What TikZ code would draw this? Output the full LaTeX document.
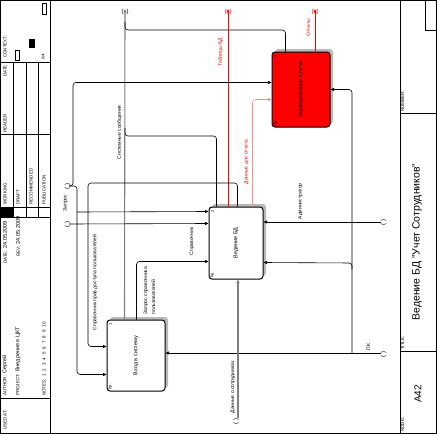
\documentclass[tikz,border=0pt]{standalone}
\usepackage{fontspec}
\setmainfont{Liberation Sans}
\usetikzlibrary{arrows.meta,calc,shadows}

\newcommand\hdrval{\fontsize{5.5}{6.5}\selectfont}

\tikzset{
  func/.style={draw,line width=1pt,rounded corners=3pt,inner sep=0pt,fill=white,
    font=\fontsize{5.5}{6.5}\selectfont,
    drop shadow={shadow xshift=3pt,shadow yshift=3pt,fill=gray!55,opacity=1}},
  arr/.style={-{Triangle[length=3.5pt,width=3pt]},line width=0.6pt,rounded corners=3pt},
  sysarr/.style={arr,gray,line width=1.1pt},
  redarr/.style={arr,red},
  pinkarr/.style={arr,red!45},
  link/.style={line width=0.6pt,rounded corners=3pt},
  lbl/.style={font=\fontsize{5}{8}\selectfont,rotate=90,anchor=west,inner sep=0.5pt},
  hdr/.style={font=\fontsize{4.5}{5.5}\selectfont,rotate=90,anchor=west,inner sep=0pt},
  tunnel/.style={font=\fontsize{6}{7}\selectfont,rotate=90,inner sep=0pt},
  toptunnel/.style={font=\fontsize{6}{7}\selectfont,inner sep=0pt},
  boxno/.style={font=\fontsize{4}{5}\selectfont,rotate=90,inner sep=0pt},
}

\begin{document}
\begin{tikzpicture}[x=1pt,y=-1pt]
  \useasboundingbox (0,0) rectangle (437,434);

  % frame
  \draw[line width=0.8pt] (0.5,0.5) rectangle (436.5,433.5);
  \draw[line width=0.8pt] (50,0.5) -- (50,433.5);
  \draw[line width=0.8pt] (400,0.5) -- (400,433.5);

  % header
  \foreach \y in {62,134,207,217,398}
    \draw[line width=0.6pt] (0.5,\y) -- (50,\y);
  \foreach \x in {13,26,38}
    \draw[line width=0.6pt] (\x,62) -- (\x,217);
  \fill (0.5,207) rectangle (13,217);
  \draw[line width=0.5pt] (15,50) rectangle (19,60);
  \fill (29,39) rectangle (35,48);
  \draw[line width=0.5pt] (42,3) rectangle (46,14);

  \node[hdr] (usedAt) at (5,430) {USED AT:};
  \node[hdr] (author) at (5,396) {AUTHOR:\enspace{\hdrval Сергей}};
  \node[hdr] (date) at (5,264) {DATE:\enspace{\hdrval 24.05.2009}};
  \node[hdr] (project) at (18,396) {PROJECT:\enspace{\hdrval Внедрение в ЦКТ}};
  \node[hdr] (rev) at (18,257) {REV:\enspace{\hdrval 24.05.2009}};
  \node[hdr] (notes) at (44,396) {NOTES:\enspace 1\hspace{3pt}2\hspace{3pt}3\hspace{3pt}4\hspace{3pt}5\hspace{3pt}6\hspace{3pt}7\hspace{3pt}8\hspace{3pt}9\hspace{3pt}10};
  \node[hdr] (working) at (5,205) {WORKING};
  \node[hdr] (draft) at (18,205) {DRAFT};
  \node[hdr] (recommended) at (31,205) {RECOMMENDED};
  \node[hdr] (publication) at (44,205) {PUBLICATION};
  \node[hdr] (reader) at (5,133) {READER};
  \node[hdr] (readerDate) at (5,77) {DATE};
  \node[hdr] (context) at (5,58) {CONTEXT:};
  \node[hdr] (sheet) at (43,60) {A4};

  % footer
  \draw[line width=0.6pt] (400,113) -- (436.5,113);
  \draw[line width=0.6pt] (400,351) -- (436.5,351);
  \draw[line width=0.6pt] (425,0.5) -- (425,30) -- (436.5,30);
  \node[hdr] (numberLbl) at (402.5,112) {NUMBER:};
  \node[hdr] (titleLbl) at (402.5,350) {TITLE:};
  \node[hdr] (nodeLbl) at (402.5,432) {NODE:};
  \node[rotate=90,font=\fontsize{10}{12}\selectfont] (nodeNo) at (418,394) {A42};
  \node[rotate=90,font=\fontsize{10.5}{12}\selectfont] (title) at (417,242) {Ведение БД "Учет Сотрудников"};

  % activity boxes
  \node[func,minimum width=58pt,minimum height=71pt] (vhod) at (136,355.5) {\rotatebox{90}{Вход в систему}};
  \node[func,minimum width=54pt,minimum height=72pt] (vedenie) at (236,243) {\rotatebox{90}{Ведение БД}};
  \node[func,fill=red,minimum width=58pt,minimum height=75pt] (otchet) at (301,89.5) {\rotatebox{90}{Формирование отчета}};

  \node[boxno] (vhodNo) at ($(vhod.north west)+(4,5)$) {1};
  \node[boxno,anchor=west] (vhodCost) at ($(vhod.south west)+(4,-2)$) {0р.};
  \node[boxno] (vedenieNo) at ($(vedenie.north west)+(4,5)$) {2};
  \node[boxno,anchor=west] (vedenieCost) at ($(vedenie.south west)+(4,-2)$) {0р.};
  \node[boxno] (otchetNo) at ($(otchet.north west)+(4,5)$) {3};
  \node[boxno,anchor=west] (otchetCost) at ($(otchet.south west)+(4,-2)$) {0р.};

  % tunnel ends
  \coordinate (sysTop) at (125,9);
  \coordinate (tabTop) at (228,9);
  \coordinate (repTop) at (315,9);
  \coordinate (zapSrc) at (69,186);
  \coordinate (sprSrc) at (69,224);
  \coordinate (admSrc) at (381,222);
  \coordinate (pcSrc) at (381,353);
  \coordinate (pcBus) at (352,353);
  \coordinate (empSrc) at (238,418);
  \coordinate (pravaBend) at (88,183);

  \node[toptunnel] (tSys) at ($(sysTop)+(0,3)$) {(\hspace{3pt})};
  \node[toptunnel,red] (tTab) at ($(tabTop)+(0,3)$) {(\hspace{3pt})};
  \node[toptunnel,red] (tRep) at ($(repTop)+(0,3)$) {(\hspace{3pt})};
  \node[tunnel] (tZap) at (67.5,186.5) {(\hspace{2pt})};
  \node[tunnel] (tSpr) at (67.5,224) {(\hspace{2pt})};
  \node[tunnel] (tAdm) at (383.5,222.5) {(\hspace{2pt})};
  \node[tunnel] (tPC) at (383.5,354) {(\hspace{2pt})};
  \node[tunnel] (tEmp) at (236,421) {(\hspace{2pt})};

  % outputs
  \draw[sysarr] ($(vhod.north west)+(18,0)$) -- (sysTop);
  \draw[link] ($(vedenie.north west)+(8,0)$) |- ($(sysTop)+(0,127)$) -- ++(0,-8);
  \draw[link] ($(otchet.north west)+(14,0)$) |- ($(sysTop)+(0,21)$) -- ++(0,-8);
  \draw[redarr] (vedenie.north -| tabTop) -- (tabTop);
  \draw[redarr] (otchet.north -| repTop) -- (repTop);
  \draw[pinkarr] ($(vedenie.north west)+(44,0)$) |- ($(otchet.north west)+(0,48)$);
  \draw[arr] ($(vedenie.north west)+(29,0)$) |- (pravaBend) |- ($(vhod.north west)+(0,27)$);
  \draw[arr] ($(vhod.north west)+(30,0)$) |- ($(vedenie.north west)+(0,55)$);

  % controls
  \draw[arr] (zapSrc) -- ++(4,0) |- ($(otchet.north west)+(0,31)$);
  \draw[arr] (zapSrc) -- ++(8,0) |- ($(vhod.north west)+(0,55)$);
  \draw[arr] ($(zapSrc)+(8,26)$) -- ($(vedenie.north west)+(0,5)$);
  \draw[arr] (sprSrc) -- ($(vedenie.north west)+(0,17)$);

  % mechanisms
  \draw[arr] (admSrc) -- (vedenie.east |- admSrc);
  \draw[arr] (pcSrc) -- (vhod.east |- pcSrc);
  \draw[arr] (pcBus) |- ($(otchet.north east)+(0,38)$);
  \draw[arr] ($(pcBus)+(0,-84)$) -- ++(0,-6) -- ($(vedenie.north east)+(0,56)$);

  % input
  \draw[sysarr] (empSrc) -- (vedenie.south -| empSrc);

  % arrow labels
  \node[lbl] (lblSys) at (119.5,160) {Системные сообщения};
  \node[lbl] (lblPrava) at (95,331) {Справочник прав доступа пользователей};
  \node[lbl,align=left] (lblZapSpr) at (149.5,315) {Запрос справочника\\пользователей};
  \node[lbl] (lblSpr) at (192,256) {Справочник};
  \node[lbl] (lblZap) at (65.5,212) {Запрос};
  \node[lbl,red] (lblTab) at (220.5,67) {Таблицы БД};
  \node[lbl,red] (lblRep) at (308.5,37) {Отчеты};
  \node[lbl,red] (lblData) at (246.5,185) {Данные для отчета};
  \node[lbl] (lblAdm) at (300.5,220) {Администратор};
  \node[lbl] (lblPC) at (368.5,351) {ПК};
  \node[lbl] (lblEmp) at (233,414) {Данные о сотрудниках};
\end{tikzpicture}
\end{document}
